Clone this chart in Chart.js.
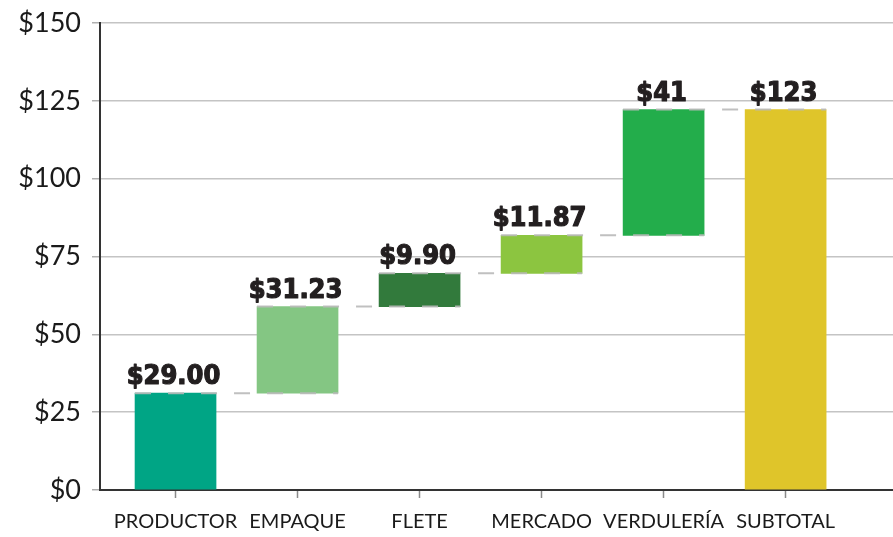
<!DOCTYPE html>
<html>
<head>
<meta charset="utf-8">
<script src="https://cdn.jsdelivr.net/npm/chart.js@4/dist/chart.umd.min.js"></script>
<style>
  html, body { margin: 0; padding: 0; background: #ffffff; }
  #wrap { width: 893px; height: 537px; position: relative; }
</style>
</head>
<body>
<div id="wrap"><canvas id="c" width="893" height="537"></canvas></div>
<script>
// ---- data ----
const categories = ['PRODUCTOR', 'EMPAQUE', 'FLETE', 'MERCADO', 'VERDULERÍA', 'SUBTOTAL'];
const barStart   = [0, 31.1, 58.9, 69.6, 81.8, 0];
const barEnd     = [31.1, 58.9, 69.6, 81.8, 122.2, 122.2];
const valueLabels = ['$29.00', '$31.23', '$9.90', '$11.87', '$41', '$123'];
const yTicks = [0, 25, 50, 75, 100, 125, 150];
const barColors = ['#00a585', '#84c683', '#327a3c', '#8cc540', '#23ad4b', '#dfc52a'];

const points = categories.map((c, i) => ({ x: i, y: [barStart[i], barEnd[i]] }));

const connectorPlugin = {
  id: 'connectors',
  afterDatasetsDraw(chart) {
    const ctx = chart.ctx;
    const meta = chart.getDatasetMeta(0);
    const ys = chart.scales.y;
    ctx.save();
    ctx.strokeStyle = 'rgba(185,185,185,0.9)';
    ctx.lineWidth = 2;
    ctx.setLineDash([16, 17]);
    for (let i = 0; i < categories.length - 1; i++) {
      const a = meta.data[i], b = meta.data[i + 1];
      const level = ys.getPixelForValue(barEnd[i]);
      const x0 = a.x - a.width / 2;
      const x1 = b.x + b.width / 2;
      ctx.beginPath();
      ctx.moveTo(x0, level);
      ctx.lineTo(x1, level);
      ctx.stroke();
    }
    ctx.restore();
  }
};

const labelPlugin = {
  id: 'valueLabels',
  afterDatasetsDraw(chart) {
    const ctx = chart.ctx;
    const meta = chart.getDatasetMeta(0);
    const ys = chart.scales.y;
    ctx.save();
    ctx.fillStyle = '#231f20';
    ctx.strokeStyle = '#231f20';
    ctx.lineWidth = 1.2;
    ctx.lineJoin = 'round';
    ctx.font = 'bold 27px "DejaVu Sans Condensed", "DejaVu Sans", sans-serif';
    ctx.textAlign = 'center';
    ctx.textBaseline = 'alphabetic';
    meta.data.forEach((bar, i) => {
      const top = ys.getPixelForValue(Math.max(barStart[i], barEnd[i]));
      ctx.fillText(valueLabels[i], bar.x - 2, top - 9);
      ctx.strokeText(valueLabels[i], bar.x - 2, top - 9);
    });
    ctx.restore();
  }
};

new Chart(document.getElementById('c'), {
  type: 'bar',
  data: {
    datasets: [{
      data: points,
      backgroundColor: barColors,
      borderWidth: 0,
      barThickness: 81,
      borderSkipped: false
    }]
  },
  options: {
    responsive: false,
    animation: false,
    devicePixelRatio: 1,
    layout: { padding: { top: 23, right: 0, left: 0, bottom: 0 } },
    plugins: { legend: { display: false }, tooltip: { enabled: false } },
    scales: {
      x: {
        type: 'linear',
        min: -0.619,
        max: 5.88,
        offset: false,
        afterFit(scale) { scale.height = 47; scale.paddingLeft = 0; scale.paddingRight = 0; },
        afterBuildTicks(scale) { scale.ticks = categories.map((c, i) => ({ value: i })); },
        grid: { offset: false, drawOnChartArea: false, drawTicks: true, tickLength: 8, tickColor: '#8a8a8a', tickWidth: 1.5 },
        border: { display: true, color: '#333333', width: 2 },
        ticks: {
          autoSkip: false,
          maxRotation: 0,
          padding: 12,
          color: '#1a1a1a',
          font: { family: 'Lato', size: 20 },
          callback(v) { return categories[v] !== undefined ? categories[v] : ''; }
        }
      },
      y: {
        min: 0,
        max: 150,
        afterFit(scale) { scale.width = 100; scale.paddingTop = 0; scale.paddingBottom = 0; },
        afterBuildTicks(scale) { scale.ticks = yTicks.map(v => ({ value: v })); },
        grid: { color: '#c4c4c4', lineWidth: 1.5, tickLength: 8, tickColor: '#b0b0b0' },
        border: { display: true, color: '#333333', width: 2 },
        ticks: {
          padding: 11,
          color: '#1a1a1a',
          font: { family: 'Lato', size: 27 },
          callback(v) { return '$' + v; }
        }
      }
    }
  },
  plugins: [connectorPlugin, labelPlugin]
});
</script>
</body>
</html>
